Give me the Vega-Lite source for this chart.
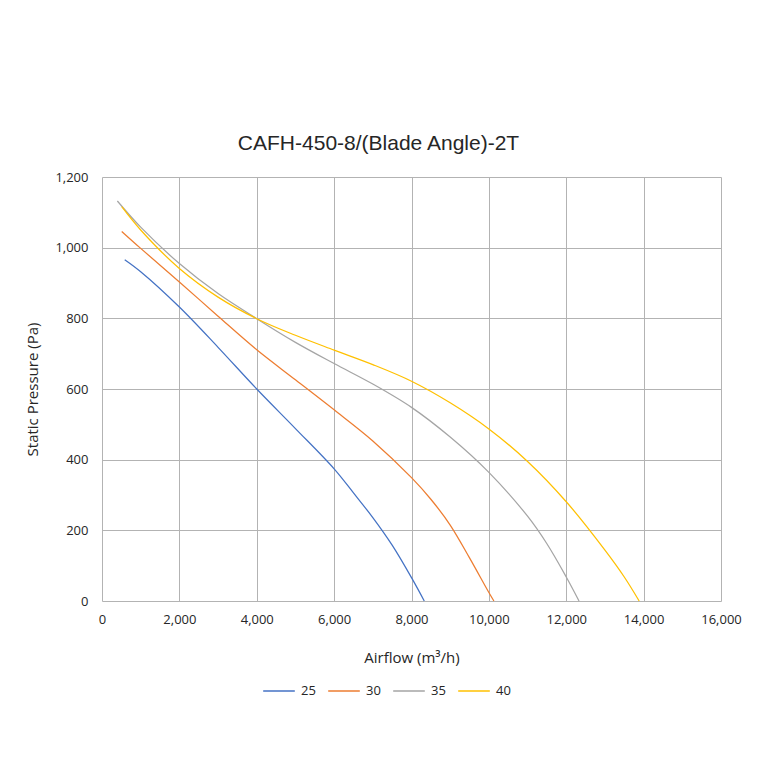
{
  "$schema": "https://vega.github.io/schema/vega-lite/v6.json",
  "width": 619,
  "height": 424,
  "autosize": {"type": "none"},
  "padding": {"left": 102, "top": 177, "right": 39, "bottom": 159},
  "background": "white",
  "title": {
    "text": "CAFH-450-8/(Blade Angle)-2T",
    "font": "Liberation Sans",
    "fontSize": 21,
    "fontWeight": "normal",
    "color": "#262626",
    "offset": 17,
    "dx": -33
  },
  "config": {
    "view": {"stroke": null},
    "axis": {
      "labelFont": "Open Sans",
      "titleFont": "Open Sans",
      "labelFontSize": 13,
      "titleFontSize": 15,
      "titleFontWeight": "normal",
      "labelColor": "#262626",
      "titleColor": "#262626",
      "gridColor": "#b3b3b3",
      "gridOpacity": 1,
      "domain": false,
      "ticks": false,
      "labelFlush": false
    },
    "legend": {
      "labelFont": "Open Sans",
      "labelFontSize": 13,
      "labelColor": "#262626"
    }
  },
  "data": {
    "values": [
      {"angle": "25", "airflow": 587, "pressure": 966},
      {"angle": "25", "airflow": 1000, "pressure": 932},
      {"angle": "25", "airflow": 2000, "pressure": 832},
      {"angle": "25", "airflow": 3000, "pressure": 718},
      {"angle": "25", "airflow": 4000, "pressure": 600},
      {"angle": "25", "airflow": 5000, "pressure": 488},
      {"angle": "25", "airflow": 6000, "pressure": 374},
      {"angle": "25", "airflow": 6500, "pressure": 306},
      {"angle": "25", "airflow": 7000, "pressure": 236},
      {"angle": "25", "airflow": 7500, "pressure": 158},
      {"angle": "25", "airflow": 8000, "pressure": 66},
      {"angle": "25", "airflow": 8330, "pressure": 0},
      {"angle": "30", "airflow": 510, "pressure": 1046},
      {"angle": "30", "airflow": 1000, "pressure": 998},
      {"angle": "30", "airflow": 2000, "pressure": 903},
      {"angle": "30", "airflow": 3000, "pressure": 806},
      {"angle": "30", "airflow": 4000, "pressure": 711},
      {"angle": "30", "airflow": 5000, "pressure": 626},
      {"angle": "30", "airflow": 6000, "pressure": 541},
      {"angle": "30", "airflow": 7000, "pressure": 453},
      {"angle": "30", "airflow": 8000, "pressure": 349},
      {"angle": "30", "airflow": 8500, "pressure": 288},
      {"angle": "30", "airflow": 9000, "pressure": 215},
      {"angle": "30", "airflow": 9500, "pressure": 122},
      {"angle": "30", "airflow": 10000, "pressure": 24},
      {"angle": "30", "airflow": 10130, "pressure": 0},
      {"angle": "35", "airflow": 397, "pressure": 1132},
      {"angle": "35", "airflow": 1000, "pressure": 1058},
      {"angle": "35", "airflow": 2000, "pressure": 955},
      {"angle": "35", "airflow": 3000, "pressure": 870},
      {"angle": "35", "airflow": 4000, "pressure": 799},
      {"angle": "35", "airflow": 5000, "pressure": 732},
      {"angle": "35", "airflow": 6000, "pressure": 672},
      {"angle": "35", "airflow": 7000, "pressure": 614},
      {"angle": "35", "airflow": 8000, "pressure": 548},
      {"angle": "35", "airflow": 9000, "pressure": 464},
      {"angle": "35", "airflow": 10000, "pressure": 364},
      {"angle": "35", "airflow": 11000, "pressure": 240},
      {"angle": "35", "airflow": 11500, "pressure": 162},
      {"angle": "35", "airflow": 12000, "pressure": 68},
      {"angle": "35", "airflow": 12330, "pressure": 0},
      {"angle": "40", "airflow": 510, "pressure": 1116},
      {"angle": "40", "airflow": 1000, "pressure": 1050},
      {"angle": "40", "airflow": 2000, "pressure": 941},
      {"angle": "40", "airflow": 3000, "pressure": 860},
      {"angle": "40", "airflow": 4000, "pressure": 799},
      {"angle": "40", "airflow": 5000, "pressure": 752},
      {"angle": "40", "airflow": 6000, "pressure": 710},
      {"angle": "40", "airflow": 7000, "pressure": 669},
      {"angle": "40", "airflow": 8000, "pressure": 622},
      {"angle": "40", "airflow": 9000, "pressure": 561},
      {"angle": "40", "airflow": 10000, "pressure": 487},
      {"angle": "40", "airflow": 11000, "pressure": 395},
      {"angle": "40", "airflow": 12000, "pressure": 281},
      {"angle": "40", "airflow": 13000, "pressure": 144},
      {"angle": "40", "airflow": 13500, "pressure": 68},
      {"angle": "40", "airflow": 13885, "pressure": 0}
    ]
  },
  "mark": {"type": "line", "interpolate": "catmull-rom", "strokeWidth": 1.25},
  "encoding": {
    "x": {
      "field": "airflow",
      "type": "quantitative",
      "title": "Airflow (m³/h)",
      "scale": {"domain": [0, 16000], "nice": false},
      "axis": {"values": [0, 2000, 4000, 6000, 8000, 10000, 12000, 14000, 16000], "format": ",.0f", "labelPadding": 12, "titlePadding": 24}
    },
    "y": {
      "field": "pressure",
      "type": "quantitative",
      "title": "Static Pressure (Pa)",
      "scale": {"domain": [0, 1200], "nice": false},
      "axis": {"values": [0, 200, 400, 600, 800, 1000, 1200], "format": ",.0f", "labelPadding": 14, "titlePadding": 14}
    },
    "color": {
      "field": "angle",
      "type": "nominal",
      "title": null,
      "scale": {"domain": ["25", "30", "35", "40"], "range": ["#4472C4", "#ED7D31", "#A5A5A5", "#FFC000"]},
      "legend": {
        "orient": "none",
        "direction": "horizontal",
        "legendX": 160,
        "legendY": 497,
        "symbolType": "stroke",
        "symbolSize": 1000,
        "symbolStrokeWidth": 1.5,
        "columnPadding": 9,
        "labelOffset": 5
      }
    }
  }
}
